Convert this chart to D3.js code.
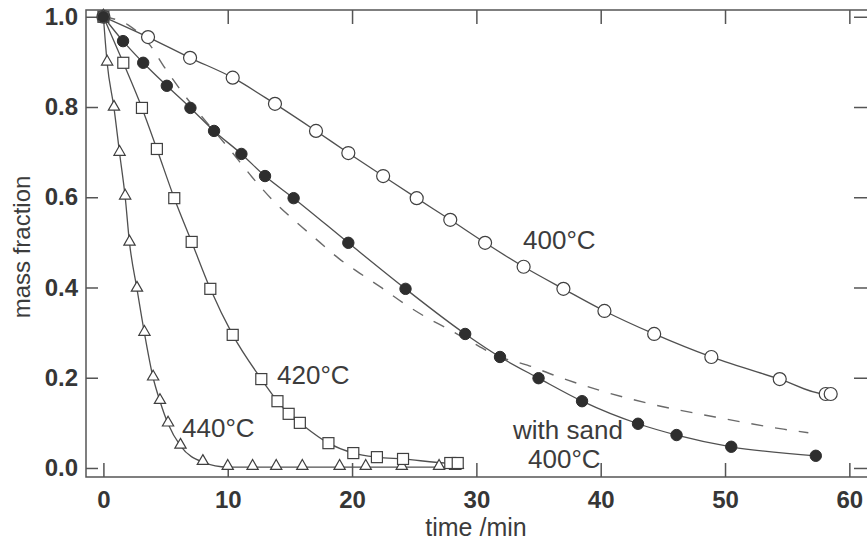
<!DOCTYPE html>
<html lang="en">
<head>
<meta charset="UTF-8">
<title>mass fraction vs time</title>
<style>
  * { box-sizing: border-box; }
  body { margin: 0; background: #fff; font-family: 'Liberation Sans', Arial, sans-serif; }
  .tick line { stroke: #555; stroke-width: 1.5; }
  .tick text { font-weight: bold; font-size: 24px; fill: #363636; }
  .domain { display: none; }
</style>
</head>
<body>
<div id="chart"></div>
<script src="https://cdnjs.cloudflare.com/ajax/libs/d3/7.8.5/d3.min.js"></script>
<script>
// 400 °C, open circles
var t400 = [0, 3.59, 6.97, 10.4, 13.8, 17.1, 19.7, 22.5, 25.2, 27.9, 30.7, 33.8, 37.0, 40.3, 44.3, 48.9, 54.4, 58.1, 58.5];
var m400 = [1.0, 0.955, 0.909, 0.865, 0.807, 0.747, 0.698, 0.647, 0.598, 0.550, 0.499, 0.446, 0.397, 0.348, 0.297, 0.246, 0.197, 0.164, 0.164];

// with sand 400 °C, filled circles
var tSand = [0, 1.58, 3.2, 5.1, 7.0, 8.9, 11.1, 13.0, 15.3, 19.7, 24.3, 29.1, 31.9, 35.0, 38.5, 43.0, 46.1, 50.5, 57.3];
var mSand = [1.0, 0.946, 0.898, 0.847, 0.798, 0.747, 0.696, 0.647, 0.598, 0.499, 0.397, 0.297, 0.246, 0.199, 0.148, 0.098, 0.073, 0.047, 0.027];

// 420 °C, squares
var t420 = [0, 1.6, 3.1, 4.3, 5.7, 7.1, 8.6, 10.4, 12.7, 14.0, 14.9, 15.8, 18.1, 20.1, 22.0, 24.1, 27.9, 28.5];
var m420 = [1.0, 0.898, 0.798, 0.707, 0.598, 0.501, 0.397, 0.295, 0.197, 0.148, 0.12, 0.10, 0.055, 0.033, 0.024, 0.02, 0.011, 0.011];

// 440 °C, triangles
var t440 = [0, 0.3, 0.85, 1.3, 1.75, 2.1, 2.7, 3.3, 4.0, 4.55, 5.2, 6.2, 8.0, 10.0, 12.0, 13.9, 16.0, 19.0, 21.1, 24.0, 27.0, 28.3, 28.5];
var m440 = [1.0, 0.898, 0.798, 0.698, 0.601, 0.499, 0.397, 0.299, 0.2, 0.148, 0.098, 0.049, 0.013, 0.002, 0.002, 0.002, 0.002, 0.002, 0.002, 0.002, 0.002, 0.002, 0.004];

// dashed comparison curve
var tDash = [0, 1.98, 3.75, 4.96, 6.2, 10.4, 11.95, 13.6, 15.3, 17.2, 18.9, 20.6, 22.4, 24.1, 25.9, 27.6, 29.3, 31.9, 34.1, 36.2, 39.8, 43.7, 49.2, 54.7, 56.7];
var mDash = [1.0, 0.982, 0.937, 0.886, 0.838, 0.698, 0.645, 0.594, 0.550, 0.505, 0.465, 0.432, 0.399, 0.366, 0.335, 0.310, 0.284, 0.246, 0.228, 0.206, 0.173, 0.144, 0.113, 0.086, 0.078];

var xTicks = [0, 10, 20, 30, 40, 50, 60];
var yTicks = [0.0, 0.2, 0.4, 0.6, 0.8, 1.0];

var W = 867, H = 542;
var svg = d3.select('#chart').append('svg').attr('width', W).attr('height', H);

var x = d3.scaleLinear().domain([-1.4, 61.5]).range([86, 868]);
var y = d3.scaleLinear().domain([-0.02, 1.015]).range([477, 10]);

function pts(ts, ms) { return ts.map(function (t, i) { return [t, ms[i]]; }); }

var lineGen = d3.line().x(function (d) { return x(d[0]); }).y(function (d) { return y(d[1]); }).curve(d3.curveMonotoneX);

// frame
svg.append('rect').attr('x', 86).attr('y', 10).attr('width', 782).attr('height', 467)
  .style('fill', 'none').style('stroke', '#555').style('stroke-width', 1.5);

// axes (inward ticks)
svg.append('g').attr('transform', 'translate(0,477)')
  .call(d3.axisBottom(x).tickValues(xTicks).tickSizeInner(-14).tickSizeOuter(0).tickPadding(30).tickFormat(d3.format('d')))
  .call(function (g) { g.selectAll('text').attr('dy', '0.71em').attr('y', 14); });
svg.append('g').attr('transform', 'translate(0,10)')
  .call(d3.axisTop(x).tickValues(xTicks).tickSizeInner(-14).tickSizeOuter(0).tickFormat(''));
svg.append('g').attr('transform', 'translate(86,0)')
  .call(d3.axisLeft(y).tickValues(yTicks).tickSizeInner(-12).tickSizeOuter(0).tickFormat(d3.format('.1f')))
  .call(function (g) { g.selectAll('text').attr('x', -8); });
svg.append('g').attr('transform', 'translate(868,0)')
  .call(d3.axisRight(y).tickValues(yTicks).tickSizeInner(-14).tickSizeOuter(0).tickFormat(''));

// dashed curve
svg.append('path').datum(pts(tDash, mDash)).attr('d', lineGen)
  .style('fill', 'none').style('stroke', '#6a6a6a').style('stroke-width', 1.4).style('stroke-dasharray', '12,12');

// solid curves
[[t400, m400], [tSand, mSand], [t420, m420], [t440, m440]].forEach(function (s) {
  svg.append('path').datum(pts(s[0], s[1])).attr('d', lineGen)
    .style('fill', 'none').style('stroke', '#505050').style('stroke-width', 1.3);
});

// markers
var mk = { stroke: '#3f3f3f', sw: 1.2 };
svg.append('g').selectAll('path').data(pts(t440, m440)).join('path')
  .attr('d', d3.symbol().type(d3.symbolTriangle).size(55))
  .attr('transform', function (d) { return 'translate(' + x(d[0]) + ',' + (y(d[1]) - 1) + ')'; })
  .style('fill', '#fff').style('stroke', mk.stroke).style('stroke-width', mk.sw);
svg.append('g').selectAll('rect').data(pts(t420, m420)).join('rect')
  .attr('x', function (d) { return x(d[0]) - 5.5; }).attr('y', function (d) { return y(d[1]) - 5.5; })
  .attr('width', 11).attr('height', 11)
  .style('fill', '#fff').style('stroke', mk.stroke).style('stroke-width', mk.sw);
svg.append('g').selectAll('circle').data(pts(t400, m400)).join('circle')
  .attr('cx', function (d) { return x(d[0]); }).attr('cy', function (d) { return y(d[1]); }).attr('r', 6.5)
  .style('fill', '#fff').style('stroke', mk.stroke).style('stroke-width', mk.sw);
svg.append('g').selectAll('circle').data(pts(tSand, mSand)).join('circle')
  .attr('cx', function (d) { return x(d[0]); }).attr('cy', function (d) { return y(d[1]); }).attr('r', 5.7)
  .style('fill', '#2e2e2e').style('stroke', '#2e2e2e');

// annotations
var notes = [
  { t: '400°C', x: 523, y: 249 },
  { t: '420°C', x: 277, y: 384 },
  { t: '440°C', x: 182, y: 437 },
  { t: 'with sand', x: 513, y: 439 },
  { t: '400°C', x: 528, y: 468 }
];
svg.append('g').selectAll('text').data(notes).join('text')
  .attr('x', function (d) { return d.x; }).attr('y', function (d) { return d.y; })
  .text(function (d) { return d.t; })
  .style('font-size', '26px').style('fill', '#3c3c3c');

// axis titles
svg.append('text').attr('x', 476).attr('y', 536).attr('text-anchor', 'middle')
  .style('font-size', '25px').style('fill', '#3c3c3c').text('time /min');
svg.append('text').attr('transform', 'translate(30,247) rotate(-90)').attr('text-anchor', 'middle')
  .style('font-size', '24px').style('fill', '#3c3c3c').text('mass fraction');
</script>
</body>
</html>
